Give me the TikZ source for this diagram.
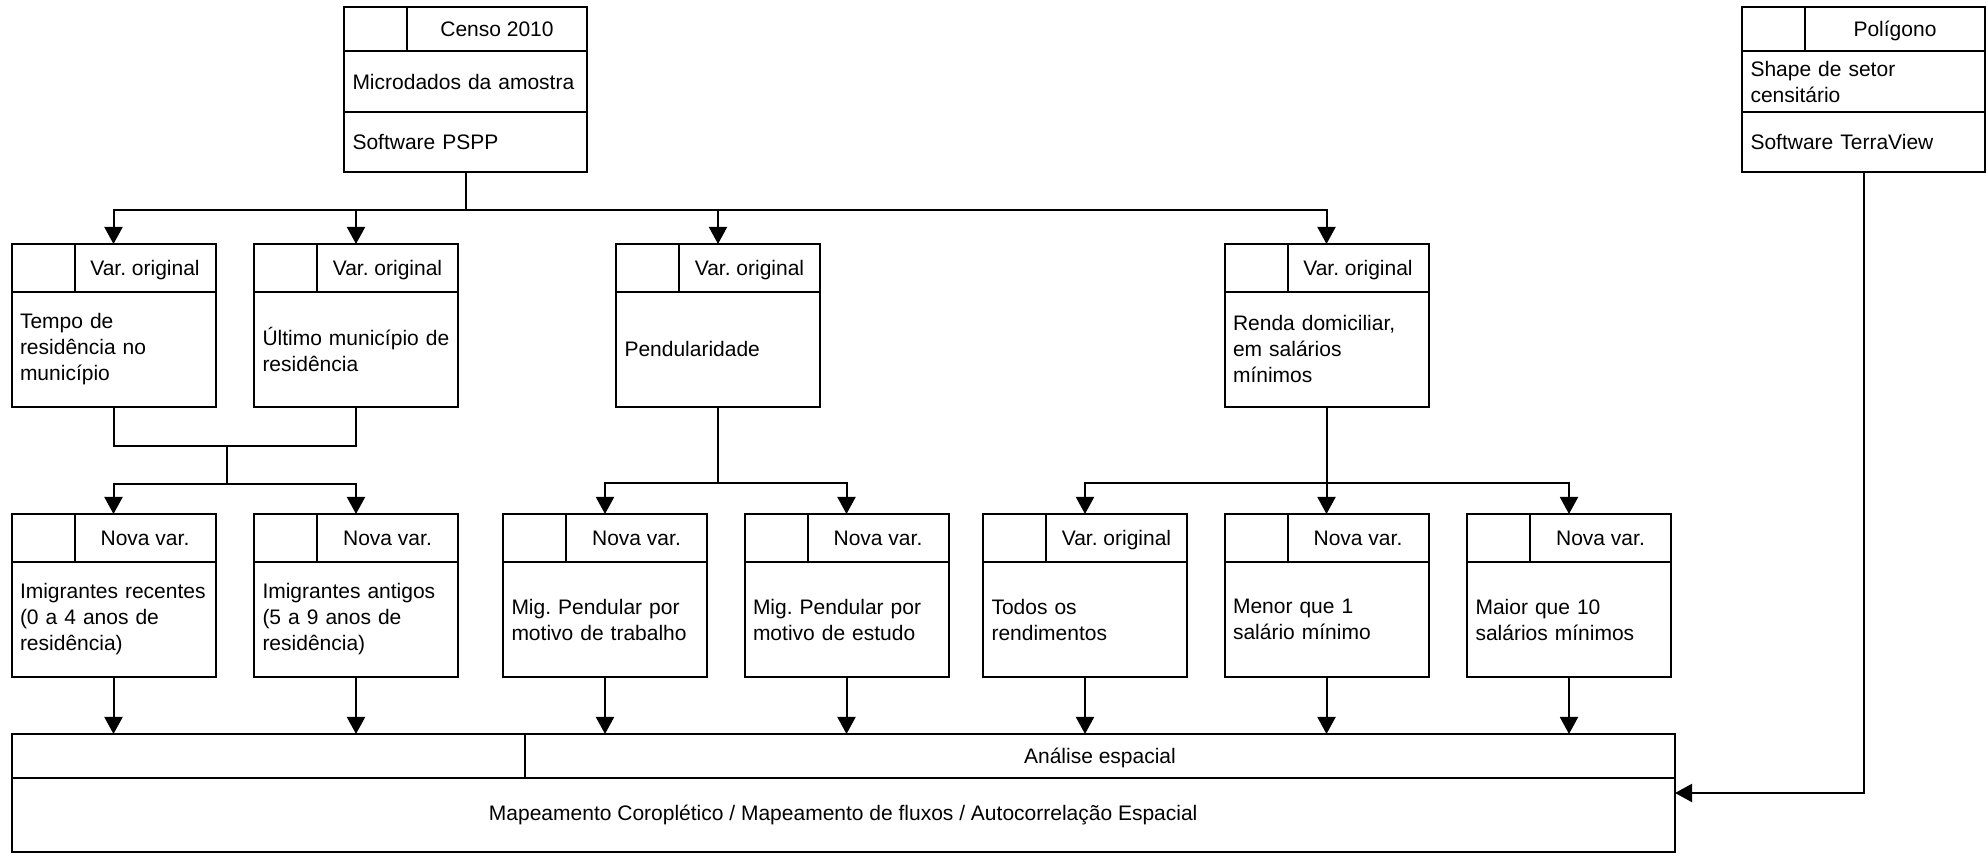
\documentclass[tikz,border=0pt]{standalone}
\usepackage{fontspec}
\setmainfont{Liberation Sans}
\usetikzlibrary{positioning,fit,arrows.meta}
\frenchspacing

\tikzset{
  cell/.style={draw, rectangle, inner sep=0pt, outer sep=0pt, anchor=north west, font=\fontsize{10.5}{13}\selectfont},
  lcell/.style={cell, minimum width=31.5pt, minimum height=24pt},
  tcell/.style={cell, minimum width=70.5pt, minimum height=24pt, text height=7.5pt, text depth=0pt},
  bcell/.style={cell, text width=93.5pt, inner xsep=4.25pt, minimum height=57.5pt, align=left},
  rcell/.style={cell, text width=113pt, inner xsep=4.25pt, align=left},
  box/.style={inner sep=0pt, outer sep=0pt},
}

\begin{document}
\begin{tikzpicture}[x=0.5pt, y=-0.5pt, line width=1pt, >={Triangle[length=8.5pt,width=9pt]}]
\useasboundingbox (0,0) rectangle (1988,854);

% sources
\node[lcell, minimum height=22pt] (censo-l) at (344,7.5) {};
\node[tcell, minimum width=90pt, minimum height=22pt] (censo-t) at (censo-l.north east) {Censo 2010};
\node[rcell, minimum height=30.5pt] (censo-m) at (censo-l.south west) {Microdados da amostra};
\node[rcell, minimum height=30pt] (censo-s) at (censo-m.south west) {Software PSPP};
\node[box, fit=(censo-t)(censo-s)] (censo) {};

\node[lcell, minimum height=22pt] (poli-l) at (1742,7.5) {};
\node[tcell, minimum width=90pt, minimum height=22pt] (poli-t) at (poli-l.north east) {Polígono};
\node[rcell, minimum height=30.5pt] (poli-m) at (poli-l.south west) {Shape de setor\\censitário};
\node[rcell, minimum height=30pt] (poli-s) at (poli-m.south west) {Software TerraView};
\node[box, fit=(poli-t)(poli-s)] (poli) {};

% original variables
\node[lcell] (tempo-l) at (11.5,244) {};
\node[tcell] (tempo-t) at (tempo-l.north east) {Var. original};
\node[bcell] (tempo-b) at (tempo-l.south west) {Tempo de\\residência no\\município};
\node[box, fit=(tempo-t)(tempo-b)] (tempo) {};

\node[lcell] (ultimo-l) at (254,244) {};
\node[tcell] (ultimo-t) at (ultimo-l.north east) {Var. original};
\node[bcell] (ultimo-b) at (ultimo-l.south west) {Último município de\\residência};
\node[box, fit=(ultimo-t)(ultimo-b)] (ultimo) {};

\node[lcell] (pend-l) at (616,244) {};
\node[tcell] (pend-t) at (pend-l.north east) {Var. original};
\node[bcell] (pend-b) at (pend-l.south west) {Pendularidade};
\node[box, fit=(pend-t)(pend-b)] (pend) {};

\node[lcell] (renda-l) at (1224.5,244) {};
\node[tcell] (renda-t) at (renda-l.north east) {Var. original};
\node[bcell] (renda-b) at (renda-l.south west) {Renda domiciliar,\\em salários\\mínimos};
\node[box, fit=(renda-t)(renda-b)] (renda) {};

% new variables
\node[lcell] (recentes-l) at (11.5,514) {};
\node[tcell] (recentes-t) at (recentes-l.north east) {Nova var.};
\node[bcell] (recentes-b) at (recentes-l.south west) {Imigrantes recentes\\(0 a 4 anos de\\residência)};
\node[box, fit=(recentes-t)(recentes-b)] (recentes) {};

\node[lcell] (antigos-l) at (254,514) {};
\node[tcell] (antigos-t) at (antigos-l.north east) {Nova var.};
\node[bcell] (antigos-b) at (antigos-l.south west) {Imigrantes antigos\\(5 a 9 anos de\\residência)};
\node[box, fit=(antigos-t)(antigos-b)] (antigos) {};

\node[lcell] (trab-l) at (503,514) {};
\node[tcell] (trab-t) at (trab-l.north east) {Nova var.};
\node[bcell] (trab-b) at (trab-l.south west) {Mig. Pendular por\\motivo de trabalho};
\node[box, fit=(trab-t)(trab-b)] (trab) {};

\node[lcell] (estudo-l) at (744.5,514) {};
\node[tcell] (estudo-t) at (estudo-l.north east) {Nova var.};
\node[bcell] (estudo-b) at (estudo-l.south west) {Mig. Pendular por\\motivo de estudo};
\node[box, fit=(estudo-t)(estudo-b)] (estudo) {};

\node[lcell] (todos-l) at (983,514) {};
\node[tcell] (todos-t) at (todos-l.north east) {Var. original};
\node[bcell] (todos-b) at (todos-l.south west) {Todos os\\rendimentos};
\node[box, fit=(todos-t)(todos-b)] (todos) {};

\node[lcell] (menor-l) at (1224.5,514) {};
\node[tcell] (menor-t) at (menor-l.north east) {Nova var.};
\node[bcell] (menor-b) at (menor-l.south west) {Menor que 1\\salário mínimo};
\node[box, fit=(menor-t)(menor-b)] (menor) {};

\node[lcell] (maior-l) at (1467,514) {};
\node[tcell] (maior-t) at (maior-l.north east) {Nova var.};
\node[bcell] (maior-b) at (maior-l.south west) {Maior que 10\\salários mínimos};
\node[box, fit=(maior-t)(maior-b)] (maior) {};

% analysis
\node[lcell, minimum width=256.75pt, minimum height=22pt] (analise-l) at (11.5,734) {};
\node[tcell, minimum width=575pt, minimum height=22pt] (analise-t) at (analise-l.north east) {Análise espacial};
\node[cell, minimum width=831.75pt, minimum height=37pt] (analise-b) at (analise-l.south west) {Mapeamento Coroplético / Mapeamento de fluxos / Autocorrelação Espacial};
\node[box, fit=(analise-t)(analise-b)] (analise) {};

% connectors
\coordinate[below=19pt of censo] (censo-bus);
\draw (censo) -- (censo-bus);
\draw[->] (censo-bus) -| (tempo);
\draw[->] (censo-bus) -| (ultimo);
\draw[->] (censo-bus) -| (pend);
\draw[->] (censo-bus) -| (renda);

\coordinate (mig-join) at (227,446);
\coordinate (mig-bus) at (227,484);
\draw (tempo) |- (mig-join) -| (ultimo);
\draw (mig-join) -- (mig-bus);
\draw[->] (mig-bus) -| (recentes);
\draw[->] (mig-bus) -| (antigos);

\coordinate[below=38pt of pend] (pend-bus);
\draw (pend) -- (pend-bus);
\draw[->] (pend-bus) -| (trab);
\draw[->] (pend-bus) -| (estudo);

\coordinate[below=38pt of renda] (renda-bus);
\draw (renda) -- (renda-bus);
\draw[->] (renda-bus) -| (todos);
\draw[->] (renda-bus) -| (menor);
\draw[->] (renda-bus) -| (maior);

\draw[->] (recentes) -- (recentes |- analise.north);
\draw[->] (antigos) -- (antigos |- analise.north);
\draw[->] (trab) -- (trab |- analise.north);
\draw[->] (estudo) -- (estudo |- analise.north);
\draw[->] (todos) -- (todos |- analise.north);
\draw[->] (menor) -- (menor |- analise.north);
\draw[->] (maior) -- (maior |- analise.north);

\draw[->] (poli) |- (analise);
\end{tikzpicture}
\end{document}
